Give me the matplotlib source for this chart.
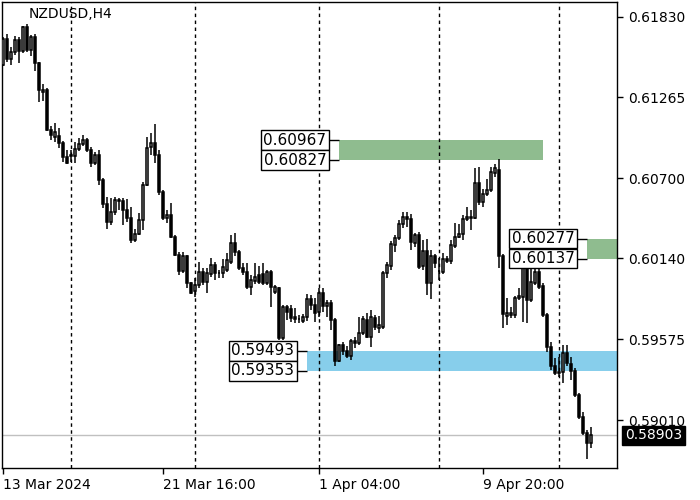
import matplotlib
matplotlib.use("Agg")
import matplotlib.pyplot as plt
from matplotlib.patches import Rectangle
import matplotlib.transforms as mtransforms
import numpy as np

symbol = "NZDUSD,H4"

opens = [0.61492, 0.61673, 0.61534, 0.61583, 0.61666, 0.61590, 0.61757, 0.61597, 0.61687, 0.61506,
         0.61303, 0.61317, 0.61037, 0.60988, 0.60995, 0.60946, 0.60849, 0.60856, 0.60856, 0.60904,
         0.60939, 0.60967, 0.60898, 0.60807, 0.60863, 0.60688, 0.60520, 0.60394, 0.60464, 0.60548,
         0.60541, 0.60478, 0.60422, 0.60268, 0.60310, 0.60408, 0.60653, 0.60918, 0.60946, 0.60863,
         0.60604, 0.60422, 0.60443, 0.60289, 0.60164, 0.60052, 0.60157, 0.59968, 0.59912, 0.59954,
         0.60045, 0.59975, 0.60031, 0.60094, 0.60038, 0.60038, 0.60059, 0.60115, 0.60247, 0.60185,
         0.60073, 0.60045, 0.59940, 0.59982, 0.60024, 0.60031, 0.59968, 0.60045, 0.59905, 0.59933,
         0.59583, 0.59800, 0.59786, 0.59730, 0.59716, 0.59702, 0.59730, 0.59856, 0.59814, 0.59765,
         0.59898, 0.59807, 0.59828, 0.59709, 0.59423, 0.59534, 0.59493, 0.59458, 0.59562, 0.59548,
         0.59618, 0.59709, 0.59590, 0.59723, 0.59653, 0.59660, 0.60038, 0.60087, 0.60233, 0.60282,
         0.60380, 0.60429, 0.60415, 0.60247, 0.60303, 0.60087, 0.60192, 0.59968, 0.60157, 0.60052,
         0.60045, 0.60136, 0.60122, 0.60226, 0.60289, 0.60310, 0.60415, 0.60429, 0.60422, 0.60667,
         0.60534, 0.60590, 0.60618, 0.60737, 0.60758, 0.60157, 0.59737, 0.59744, 0.59744, 0.59863,
         0.59870, 0.60073, 0.59849, 0.59968, 0.60045, 0.59947, 0.59744, 0.59520, 0.59388, 0.59346,
         0.59346, 0.59479, 0.59402, 0.59353, 0.59185, 0.59031, 0.58919, 0.58849]
highs = [0.61687, 0.61708, 0.61617, 0.61694, 0.61687, 0.61764, 0.61778, 0.61701, 0.61708, 0.61513,
         0.61359, 0.61331, 0.61065, 0.61086, 0.61051, 0.60960, 0.60898, 0.60898, 0.60953, 0.60981,
         0.61002, 0.60981, 0.60918, 0.60884, 0.60898, 0.60702, 0.60569, 0.60562, 0.60569, 0.60562,
         0.60562, 0.60555, 0.60499, 0.60345, 0.60457, 0.60674, 0.60988, 0.61016, 0.61079, 0.60898,
         0.60618, 0.60478, 0.60527, 0.60303, 0.60185, 0.60185, 0.60164, 0.59975, 0.60003, 0.60115,
         0.60073, 0.60073, 0.60143, 0.60115, 0.60059, 0.60136, 0.60178, 0.60303, 0.60317, 0.60199,
         0.60108, 0.60108, 0.60024, 0.60108, 0.60087, 0.60108, 0.60059, 0.60059, 0.59954, 0.59940,
         0.59814, 0.59814, 0.59814, 0.59793, 0.59744, 0.59751, 0.59891, 0.59884, 0.59863, 0.59933,
         0.59933, 0.59849, 0.59849, 0.59723, 0.59541, 0.59555, 0.59527, 0.59576, 0.59590, 0.59730,
         0.59737, 0.59758, 0.59779, 0.59744, 0.59737, 0.60052, 0.60115, 0.60261, 0.60303, 0.60408,
         0.60464, 0.60464, 0.60450, 0.60317, 0.60324, 0.60268, 0.60275, 0.60199, 0.60171, 0.60143,
         0.60178, 0.60157, 0.60268, 0.60387, 0.60380, 0.60443, 0.60499, 0.60478, 0.60772, 0.60779,
         0.60625, 0.60695, 0.60779, 0.60800, 0.60835, 0.60171, 0.59863, 0.59800, 0.59877, 0.59933,
         0.60115, 0.60108, 0.60087, 0.60087, 0.60087, 0.59968, 0.59758, 0.59555, 0.59444, 0.59451,
         0.59534, 0.59534, 0.59451, 0.59374, 0.59199, 0.59066, 0.58940, 0.58961]
lows = [0.61485, 0.61513, 0.61492, 0.61562, 0.61506, 0.61576, 0.61583, 0.61555, 0.61450, 0.61233,
        0.61240, 0.61030, 0.60967, 0.60953, 0.60911, 0.60814, 0.60800, 0.60814, 0.60807, 0.60891,
        0.60925, 0.60884, 0.60779, 0.60793, 0.60653, 0.60492, 0.60345, 0.60373, 0.60443, 0.60478,
        0.60373, 0.60394, 0.60247, 0.60254, 0.60303, 0.60338, 0.60646, 0.60863, 0.60807, 0.60583,
        0.60408, 0.60387, 0.60282, 0.60157, 0.60024, 0.60038, 0.59933, 0.59891, 0.59870, 0.59933,
        0.59954, 0.59898, 0.60010, 0.59989, 0.60003, 0.60003, 0.60045, 0.60101, 0.60157, 0.60059,
        0.60024, 0.59926, 0.59884, 0.59961, 0.59961, 0.59954, 0.59954, 0.59800, 0.59891, 0.59569,
        0.59569, 0.59709, 0.59695, 0.59688, 0.59688, 0.59688, 0.59702, 0.59779, 0.59695, 0.59730,
        0.59765, 0.59730, 0.59639, 0.59388, 0.59416, 0.59465, 0.59444, 0.59430, 0.59513, 0.59534,
        0.59604, 0.59583, 0.59520, 0.59639, 0.59618, 0.59646, 0.60003, 0.60059, 0.60185, 0.60268,
        0.60352, 0.60359, 0.60199, 0.60219, 0.60066, 0.60059, 0.59884, 0.59856, 0.60073, 0.59989,
        0.60031, 0.60108, 0.60101, 0.60212, 0.60282, 0.60268, 0.60401, 0.60338, 0.60415, 0.60513,
        0.60499, 0.60576, 0.60604, 0.60709, 0.60073, 0.59653, 0.59674, 0.59723, 0.59723, 0.59849,
        0.59695, 0.59688, 0.59835, 0.59954, 0.59926, 0.59730, 0.59486, 0.59360, 0.59325, 0.59311,
        0.59269, 0.59388, 0.59290, 0.59171, 0.59017, 0.58905, 0.58738, 0.58814]
closes = [0.61673, 0.61534, 0.61583, 0.61666, 0.61590, 0.61757, 0.61597, 0.61687, 0.61506, 0.61317,
          0.61317, 0.61037, 0.61002, 0.61023, 0.60946, 0.60849, 0.60807, 0.60863, 0.60904, 0.60939,
          0.60967, 0.60898, 0.60807, 0.60863, 0.60688, 0.60520, 0.60394, 0.60464, 0.60548, 0.60541,
          0.60478, 0.60422, 0.60268, 0.60310, 0.60408, 0.60653, 0.60911, 0.60946, 0.60863, 0.60604,
          0.60422, 0.60443, 0.60289, 0.60164, 0.60052, 0.60157, 0.59968, 0.59898, 0.59954, 0.60045,
          0.59975, 0.60038, 0.60094, 0.60038, 0.60036, 0.60080, 0.60129, 0.60247, 0.60185, 0.60073,
          0.60045, 0.59940, 0.59989, 0.60010, 0.59975, 0.59968, 0.60045, 0.59940, 0.59940, 0.59583,
          0.59800, 0.59765, 0.59723, 0.59716, 0.59714, 0.59730, 0.59856, 0.59814, 0.59758, 0.59898,
          0.59807, 0.59828, 0.59709, 0.59423, 0.59534, 0.59493, 0.59458, 0.59562, 0.59548, 0.59618,
          0.59716, 0.59590, 0.59730, 0.59660, 0.59674, 0.60038, 0.60094, 0.60240, 0.60282, 0.60380,
          0.60429, 0.60415, 0.60254, 0.60303, 0.60080, 0.60192, 0.59968, 0.60157, 0.60108, 0.60050,
          0.60136, 0.60122, 0.60233, 0.60289, 0.60310, 0.60415, 0.60429, 0.60422, 0.60667, 0.60534,
          0.60590, 0.60618, 0.60744, 0.60772, 0.60157, 0.59751, 0.59758, 0.59758, 0.59863, 0.59877,
          0.60073, 0.59849, 0.59975, 0.60045, 0.59940, 0.59744, 0.59520, 0.59388, 0.59339, 0.59339,
          0.59479, 0.59409, 0.59353, 0.59185, 0.59031, 0.58919, 0.58849, 0.58903]

price_ticks = [0.61830, 0.61265, 0.60700, 0.60140, 0.59575, 0.59010]
time_tick_bars = [0, 40, 79, 120]
time_tick_labels = ["13 Mar 2024", "21 Mar 16:00", "1 Apr 04:00", "9 Apr 20:00"]
separator_bars = [17, 48, 79, 109, 139]

zone_highs = [0.60967, 0.60277, 0.59493]
zone_lows = [0.60827, 0.60137, 0.59353]
zone_start_bars = [84, 146, 76]
zone_end_bars = [135, 160, 160]
zone_colors = ["#8fbc8f", "#8fbc8f", "#87ceeb"]

last_price = 0.58903

plt.rcParams["font.family"] = ["DejaVu Sans"]

fig = plt.figure(figsize=(7, 5), dpi=100)
ax = fig.add_axes([2 / 700, 32 / 500, 615 / 700, 466 / 500])

o = np.array(opens)
h = np.array(highs)
l = np.array(lows)
c = np.array(closes)
x = np.arange(len(o))
shift = -0.25
xs = x + shift

ax.set_xlim(-0.5, 153.25)
ax.set_ylim(0.58675, 0.61932)

# separators
for b in separator_bars:
    ax.axvline(b + shift, color="black", lw=1, ls=(0, (2.5, 2.5)), zorder=1)

# current price line
ax.axhline(last_price, color="#c0c0c0", lw=1, zorder=1)

# zones
for zh, zl, zs, ze, col in zip(zone_highs, zone_lows, zone_start_bars, zone_end_bars, zone_colors):
    ax.add_patch(Rectangle((zs + shift, zl), ze - zs, zh - zl, facecolor=col,
                           edgecolor="none", zorder=0.5))

# candles
ax.vlines(xs, l, h, colors="black", lw=1.1, zorder=2)
bottoms = np.minimum(o, c)
heights = np.maximum(np.abs(c - o), 1e-7)
fcols = ["white" if cc >= oo else "black" for oo, cc in zip(o, c)]
ax.bar(xs, heights, bottom=bottoms, width=0.6, color=fcols, edgecolor="black",
       linewidth=1.1, zorder=3)

# zone labels
label_w = 17
label_gap = 2.5
for zh, zl, zs in zip(zone_highs, zone_lows, zone_start_bars):
    left = zs + shift - label_gap - label_w
    right = zs + shift - label_gap
    hh = (zh - zl) * 0.96
    for lvl in (zh, zl):
        ax.add_patch(Rectangle((left, lvl - hh / 2), label_w, hh, facecolor="white",
                               edgecolor="black", lw=1, zorder=6))
        ax.text((left + right) / 2, lvl, f"{lvl:.5f}", ha="center", va="center",
                fontsize=11, color="black", zorder=7)
        ax.plot([right, zs + shift], [lvl, lvl], color="black", lw=1, zorder=6,
                solid_capstyle="butt")

# axes styling
for sp in ax.spines.values():
    sp.set_color("black")
    sp.set_linewidth(1)
ax.yaxis.tick_right()
ax.set_yticks(price_ticks)
ax.set_yticklabels([f"{t:.5f}" for t in price_ticks])
ax.tick_params(axis="y", direction="out", length=4, width=1, labelsize=10, pad=4,
               colors="black")
ax.set_xticks([b + shift for b in time_tick_bars])
ax.set_xticklabels(time_tick_labels, ha="left")
ax.tick_params(axis="x", direction="out", length=4, width=1, labelsize=10, pad=3,
               colors="black")

# current price label
trans = mtransforms.blended_transform_factory(ax.transAxes, ax.transData)
ax.annotate(f"{last_price:.5f}", xy=(1.0, last_price), xycoords=trans,
            xytext=(8, 0), textcoords="offset pixels", ha="left", va="center",
            fontsize=10, color="white", annotation_clip=False,
            bbox=dict(boxstyle="square,pad=0.2", fc="black", ec="black"))

# title
ax.text(27 / 615, 1 - 12 / 466, symbol, transform=ax.transAxes, ha="left", va="center",
        fontsize=10, color="black")

fig.savefig("out.png", dpi=100)
